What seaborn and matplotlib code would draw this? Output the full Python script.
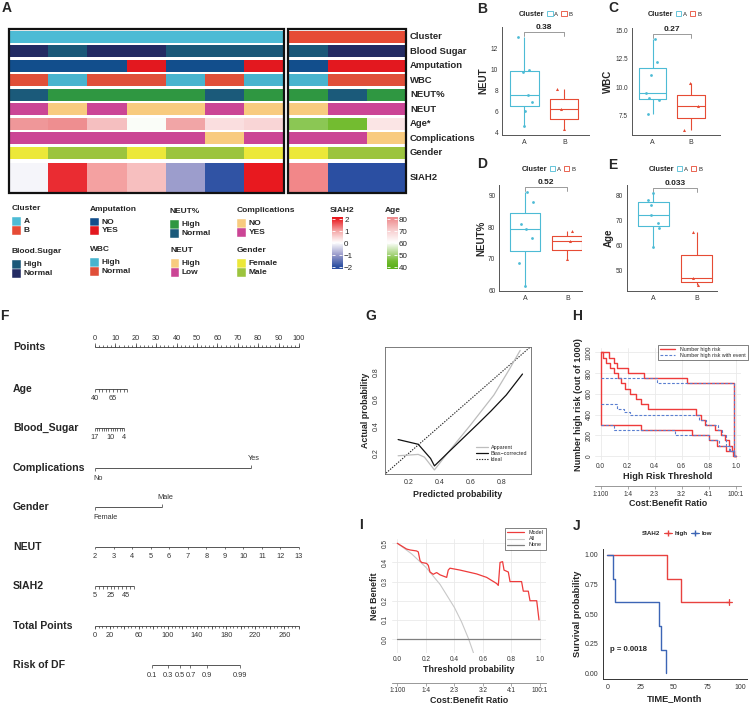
import numpy as np
import pandas as pd
import matplotlib
matplotlib.use("Agg")
import matplotlib.pyplot as plt
import seaborn as sns
from matplotlib.colors import ListedColormap, LinearSegmentedColormap
from matplotlib.patches import Rectangle, Patch
from matplotlib.lines import Line2D

sns.set_style("white")
plt.rcParams["font.family"] = ["Liberation Sans", "DejaVu Sans"]

# ---------------- data: heatmap (A) ----------------
cluster_A = ["A"] * 7
cluster_B = ["B"] * 3
blood_A = ["Normal", "High", "Normal", "Normal", "High", "High", "High"]
blood_B = ["High", "Normal", "Normal"]
amput_A = ["NO", "NO", "NO", "YES", "NO", "NO", "YES"]
amput_B = ["NO", "YES", "YES"]
wbc_A = ["Normal", "High", "Normal", "Normal", "High", "Normal", "High"]
wbc_B = ["High", "Normal", "Normal"]
neutp_A = ["Normal", "High", "High", "High", "High", "Normal", "High"]
neutp_B = ["High", "Normal", "High"]
neut_A = ["Low", "High", "Low", "High", "High", "Low", "High"]
neut_B = ["High", "Low", "Low"]
age_A = [78.5, 81.0, 72.5, 59.5, 76.5, 67.0, 69.0]
age_B = [47.0, 44.5, 65.5]
comp_A = ["YES", "YES", "YES", "YES", "YES", "NO", "YES"]
comp_B = ["YES", "YES", "NO"]
gender_A = ["Female", "Male", "Male", "Female", "Male", "Male", "Female"]
gender_B = ["Female", "Male", "Male"]
siah2_A = [-0.1, 1.85, 1.0, 0.7, -1.0, -1.95, 2.0]
siah2_B = [1.2, -2.0, -2.0]

# ---------------- data: boxplots (B-E) ----------------
neut_box_A = [13.0, 9.95, 9.75, 7.6, 6.9, 6.1, 4.65]
neut_box_B = [8.15, 6.3, 4.35]
wbc_box_A = [14.2, 12.25, 11.05, 9.5, 9.0, 8.9, 7.6]
wbc_box_B = [10.35, 8.3, 6.2]
neutp_box_A = [91.2, 88.2, 81.0, 79.6, 76.5, 68.5, 61.2]
neutp_box_B = [78.9, 75.5, 69.9]
pvals = ["0.38", "0.27", "0.52", "0.033"]

# ---------------- data: nomogram (F) ----------------
age_ticks = [40, 45, 50, 55, 60, 65, 70, 75, 80, 85]
age_labels = [40, 65]
age_end_vals = [40, 85]
age_end_pts = [0, 15.9]
bs_ticks = [17, 16, 15, 14, 13, 12, 11, 10, 9, 8, 7, 6, 5, 4]
bs_labels = [17, 10, 4]
bs_end_vals = [4, 17]
bs_end_pts = [14.2, 0]
comp_levels = ["No", "Yes"]
comp_pts = [0, 76.5]
gender_levels = ["Female", "Male"]
gender_pts = [0, 32.8]
neut_ticks = [2, 3, 4, 5, 6, 7, 8, 9, 10, 11, 12, 13]
neut_end_vals = [2, 13]
neut_end_pts = [0, 100]
siah_ticks = [5, 10, 15, 20, 25, 30, 35, 40, 45, 50, 55]
siah_labels = [5, 25, 45]
siah_end_vals = [5, 55]
siah_end_pts = [0, 19.1]
total_max = 280
total_labels = [0, 20, 60, 100, 140, 180, 220, 260]
risk_labels = ["0.1", "0.3", "0.5", "0.7", "0.9", "0.99"]
risk_total = [78, 100, 116, 131, 154, 199]

# ---------------- data: calibration (G) ----------------
ideal_x = [0, 1]
ideal_y = [0, 1]
cal_pred_app = [0.13, 0.26, 0.30, 0.365, 0.45, 0.60, 0.75, 0.85, 0.92]
cal_act_app = [0.18, 0.19, 0.17, 0.075, 0.20, 0.41, 0.63, 0.82, 0.96]
cal_pred_bc = [0.13, 0.26, 0.34, 0.365, 0.45, 0.55, 0.65, 0.73, 0.83, 0.935]
cal_act_bc = [0.30, 0.265, 0.16, 0.105, 0.20, 0.31, 0.42, 0.51, 0.63, 0.785]

# ---------------- data: clinical impact (H) ----------------
hr_up_x = [0, 0.065, 0.095, 0.12, 0.20, 0.32, 0.64, 0.99, 1.0]
hr_up_y = [1000, 950, 900, 850, 800, 750, 700, 0, 0]
hr_mid_x = [0, 0.02, 0.04, 0.07, 0.10, 0.13, 0.15, 0.18, 0.22, 0.26, 0.30, 0.35,
            0.71, 0.74, 0.77, 0.85, 0.89, 0.92, 0.95, 0.97, 0.99, 1.0]
hr_mid_y = [1000, 950, 900, 850, 800, 750, 700, 650, 600, 550, 500, 450,
            400, 350, 300, 250, 200, 150, 100, 50, 0, 0]
hr_low_x = [0, 0, 0.30, 0.68, 0.80, 0.86, 0.93, 0.98, 1.0]
hr_low_y = [1000, 300, 250, 200, 150, 100, 50, 0, 0]
ev_up_x = [0, 0.42, 0.99, 1.0]
ev_up_y = [750, 700, 0, 0]
ev_mid_x = [0, 0.12, 0.17, 0.22, 0.73, 0.78, 0.87, 0.90, 0.93, 0.96, 0.99, 1.0]
ev_mid_y = [500, 450, 420, 400, 350, 300, 250, 200, 100, 50, 0, 0]
ev_low_x = [0, 0.10, 0.55, 0.80, 0.88, 0.95, 0.99, 1.0]
ev_low_y = [300, 250, 200, 150, 100, 50, 0, 0]
cb_labels = ["1:100", "1:4", "2:3", "3:2", "4:1", "100:1"]

# ---------------- data: decision curve (I) ----------------
nb_model_x = [0, 0.065, 0.09, 0.135, 0.147, 0.159, 0.17, 0.205, 0.217, 0.229, 0.252,
              0.264, 0.276, 0.30, 0.346, 0.357, 0.369, 0.44, 0.556, 0.626, 0.696,
              0.708, 0.72, 0.738, 0.748, 0.778, 0.79, 0.871, 0.883, 0.918, 0.93,
              0.977, 0.993]
nb_model_y = [0.50, 0.47, 0.465, 0.46, 0.455, 0.41, 0.40, 0.395, 0.385, 0.35, 0.338,
              0.343, 0.347, 0.335, 0.322, 0.36, 0.37, 0.36, 0.34, 0.322, 0.29,
              0.28, 0.40, 0.404, 0.36, 0.35, 0.30, 0.30, 0.25, 0.25, 0.20,
              0.20, 0.10]
nb_all_x = [0, 0.1, 0.2, 0.3, 0.4, 0.45, 0.5, 0.535]
nb_all_y = [0.5, 0.445, 0.375, 0.285, 0.165, 0.09, 0.0, -0.075]
nb_none_x = [0, 1]
nb_none_y = [0, 0]

# ---------------- data: survival (J) ----------------
high_time = [45, 55, 91, 91, 91]
high_event = [1, 1, 0, 0, 0]
low_time = [4.5, 5.75, 39, 40.25, 44]
low_event = [1, 1, 1, 1, 1]
p_text = "p = 0.0018"

# ---------------- colours ----------------
col_cluster = {"A": "#4DBBD5", "B": "#E64B35"}
col_blood = {"High": "#1B5878", "Normal": "#232B63"}
col_amput = {"NO": "#124E8C", "YES": "#E3181F"}
col_wbc = {"High": "#48B4CE", "Normal": "#E04F39"}
col_neutp = {"High": "#2F9741", "Normal": "#1B5A7A"}
col_neut = {"High": "#F8CB7F", "Low": "#CB4595"}
col_comp = {"NO": "#F8CB7F", "YES": "#CB4595"}
col_gender = {"Female": "#ECE839", "Male": "#9CC43E"}
siah_cmap = LinearSegmentedColormap.from_list(
    "siah", [(0, "#2B4FA2"), (0.25, "#9C9DCC"), (0.5, "#FFFFFF"), (0.75, "#F4A3A3"), (1, "#E8191F")])
age_cmap = LinearSegmentedColormap.from_list(
    "age", [(0, "#5FB21E"), (0.1125, "#73BC30"), (0.175, "#8CC755"), (0.5, "#FFFFFF"),
            (0.75, "#F8D0D1"), (1, "#EE8E90")])

W, H = 750, 706
fig = plt.figure(figsize=(W / 100, H / 100), dpi=100)


def px_ax(x0, y0, x1, y1):
    return fig.add_axes([x0 / W, 1 - y1 / H, (x1 - x0) / W, (y1 - y0) / H])


def ftext(x, y, s, **kw):
    fig.text(x / W, 1 - y / H, s, **kw)


def frect(x0, y0, x1, y1, **kw):
    fig.patches.append(Rectangle((x0 / W, 1 - y1 / H), (x1 - x0) / W, (y1 - y0) / H,
                                 transform=fig.transFigure, **kw))


# ================= Panel A : heatmap =================
rows = [
    ("Cluster", cluster_A, cluster_B, col_cluster),
    ("Blood Sugar", blood_A, blood_B, col_blood),
    ("Amputation", amput_A, amput_B, col_amput),
    ("WBC", wbc_A, wbc_B, col_wbc),
    ("NEUT%", neutp_A, neutp_B, col_neutp),
    ("NEUT", neut_A, neut_B, col_neut),
    ("Age*", age_A, age_B, (age_cmap, 40, 80)),
    ("Complications", comp_A, comp_B, col_comp),
    ("Gender", gender_A, gender_B, col_gender),
    ("SIAH2", siah2_A, siah2_B, (siah_cmap, -2, 2)),
]
for i, (lab, va, vb, cmap_def) in enumerate(rows):
    if i < 9:
        top = 30.7 + i * 14.5
        bot = top + 11.8
    else:
        top, bot = 162.5, 192.0
    for vals, (x0, x1) in [(va, (9.0, 283.5)), (vb, (288.5, 406.0))]:
        ax = px_ax(x0, top, x1, bot)
        if isinstance(cmap_def, dict):
            levels = list(cmap_def.keys())
            codes = [[levels.index(v) for v in vals]]
            sns.heatmap(codes, cmap=ListedColormap([cmap_def[k] for k in levels]),
                        vmin=-0.5, vmax=len(levels) - 0.5, cbar=False,
                        xticklabels=False, yticklabels=False, ax=ax, linewidths=0)
        else:
            cm, lo, hi = cmap_def
            sns.heatmap([vals], cmap=cm, vmin=lo, vmax=hi, cbar=False,
                        xticklabels=False, yticklabels=False, ax=ax, linewidths=0)
        ax.set_xlabel("")
        ax.set_ylabel("")
    ftext(410, (top + bot) / 2, lab, ha="left", va="center", fontsize=6.8, fontweight="bold")

frect(8.8, 29.0, 283.8, 192.8, fill=False, lw=1.6, ec="#111111", zorder=5)
frect(288.2, 29.0, 406.3, 192.8, fill=False, lw=1.6, ec="#111111", zorder=5)

# legends (categorical)
cat_legends = [
    ("Cluster", 12, 208.5, col_cluster),
    ("Blood.Sugar", 12, 251.7, col_blood),
    ("Amputation", 90, 209.3, col_amput),
    ("WBC", 90, 249.5, col_wbc),
    ("NEUT%", 170, 211.5, col_neutp),
    ("NEUT", 170.5, 251.0, col_neut),
    ("Complications", 237, 211.0, col_comp),
    ("Gender", 237, 251.0, col_gender),
]
for title, lx, ly, cmap_def in cat_legends:
    ftext(lx, ly, title, ha="left", va="center", fontsize=6.0, fontweight="bold")
    for j, (k, c) in enumerate(cmap_def.items()):
        t = ly + 8.2 + j * 8.9
        frect(lx, t, lx + 8.6, t + 8.9, fc=c, ec="white", lw=0.3)
        ftext(lx + 11.5, t + 4.6, k, ha="left", va="center", fontsize=6.0, fontweight="bold")

# legends (continuous)
for title, lx, cm, lo, hi, ticks, tlabs, pad in [
    ("SIAH2", 331.5, siah_cmap, -2, 2, [-2, -1, 0, 1, 2], ["\u22122", "\u22121", "0", "1", "2"], 0.18),
    ("Age", 386.5, age_cmap, 40, 80, [40, 50, 60, 70, 80], ["40", "50", "60", "70", "80"], 2.1),
]:
    ftext(lx - 2, 210.0, title, ha="left", va="center", fontsize=6.0, fontweight="bold")
    axc = px_ax(lx, 217.0, lx + 10.5, 269.5)
    grad = np.linspace(lo - pad, hi + pad, 256)[:, None]
    axc.imshow(grad, aspect="auto", cmap=cm, vmin=lo, vmax=hi, origin="lower",
               extent=[0, 1, lo - pad, hi + pad])
    axc.set_xlim(0, 1)
    axc.set_ylim(lo - pad, hi + pad)
    axc.set_xticks([])
    axc.set_yticks(ticks, labels=tlabs)
    axc.tick_params(axis="y", direction="in", length=2.2, width=0.6, color="white",
                    left=True, right=True, labelleft=False, labelright=True,
                    labelsize=5.8, labelcolor="#222222", pad=1.5)
    for s in axc.spines.values():
        s.set_visible(False)

# ================= Panels B-E : boxplots =================
box_specs = [
    ((502, 27, 589, 135), neut_box_A, neut_box_B, "NEUT", (-0.56, 1.62), (3.81, 13.98),
     [4, 6, 8, 10, 12], ["4", "6", "8", "10", "12"], pvals[0], (0.46, 1.12)),
    ((632, 28, 720, 135), wbc_box_A, wbc_box_B, "WBC", (-0.54, 1.76), (5.79, 15.2),
     [7.5, 10, 12.5, 15], ["7.5", "10.0", "12.5", "15.0"], pvals[1], (0.44, 1.13)),
    ((499.3, 185, 581.7, 291), neutp_box_A, neutp_box_B, "NEUT%", (-0.61, 1.34), (59.7, 93.5),
     [60, 70, 80, 90], ["60", "70", "80", "90"], pvals[2], (0.55, 1.15)),
    ((626.7, 185, 716.7, 291), age_A, age_B, "Age", (-0.61, 1.46), (42.0, 84.3),
     [50, 60, 70, 80], ["50", "60", "70", "80"], pvals[3], (0.50, 1.15)),
]
np.random.seed(7)
for rect, vA, vB, ylab, xl, yl, yt, ytl, pv, lpos in box_specs:
    ax = px_ax(*rect)
    df = pd.DataFrame({"Cluster": ["A"] * len(vA) + ["B"] * len(vB), "val": list(vA) + list(vB)})
    sns.boxplot(data=df, x="Cluster", y="val", hue="Cluster", order=["A", "B"],
                hue_order=["A", "B"], palette=col_cluster, fill=False, width=0.71,
                linewidth=0.8, showcaps=False, showfliers=False, legend=False, ax=ax)
    sns.stripplot(x=["A"] * len(vA), y=vA, order=["A", "B"], color=col_cluster["A"],
                  marker="o", size=2.0, jitter=0.2, linewidth=0, ax=ax)
    sns.stripplot(x=["B"] * len(vB), y=vB, order=["A", "B"], color=col_cluster["B"],
                  marker="^", size=2.2, jitter=0.2, linewidth=0, ax=ax)
    lo, hi = min(vA + vB), max(vA + vB)
    rng = hi - lo
    yb = hi + 0.055 * rng
    ax.plot([0, 0, 1, 1], [yb - 0.04 * rng, yb, yb, yb - 0.04 * rng], color="#8a8a8a",
            lw=0.6, clip_on=False)
    ax.text(0.5, yb + 0.012 * rng, pv, ha="center", va="bottom", fontsize=6.0,
            fontweight="bold", color="#222222", clip_on=False)
    ax.set_xlim(*xl)
    ax.set_ylim(*yl)
    ax.set_yticks(yt, labels=ytl)
    ax.set_xlabel("")
    ax.set_ylabel(ylab, fontsize=7.0, fontweight="bold", labelpad=1.5)
    ax.tick_params(labelsize=4.7, length=1.8, width=0.5, pad=1, colors="#444444",
                   labelcolor="#333333")
    ax.tick_params(axis="x", labelsize=5.0)
    sns.despine(ax=ax)
    for s in ["left", "bottom"]:
        ax.spines[s].set_color("#555555")
        ax.spines[s].set_linewidth(0.7)
    handles = [Line2D([], [], color="none"),
               Patch(facecolor="white", edgecolor=col_cluster["A"], lw=0.6),
               Patch(facecolor="white", edgecolor=col_cluster["B"], lw=0.6)]
    leg = ax.legend(handles, ["Cluster", "A", "B"], ncol=3, loc="center",
                    bbox_to_anchor=lpos, frameon=False, fontsize=4.3, handlelength=0.9,
                    handleheight=0.8, handletextpad=0.3, columnspacing=0.5, borderaxespad=0)
    leg.get_texts()[0].set_fontweight("bold")
    leg.get_texts()[0].set_fontsize(5.3)

# ================= Panel F : nomogram =================
axF = px_ax(0, 330, 360, 706)
pxpt = 2.04
axF.set_xlim(-95 / pxpt, (360 - 95) / pxpt)
axF.set_ylim(9.04, -0.497)
axF.axis("off")
lc = "#3a3a3a"
tfs = 5.3
row_names = ["Points", "Age", "Blood_Sugar", "Complications", "Gender", "NEUT",
             "SIAH2", "Total Points", "Risk of DF"]
row_y = [-0.07, 1, 2, 3, 4, 5, 6, 7, 8]
for nm, y in zip(row_names, row_y):
    axF.text((13 - 95) / pxpt, y, nm, ha="left", va="center", fontsize=7.6, fontweight="bold")


def hline(y, a, b):
    axF.plot([a, b], [y, y], color=lc, lw=0.6, solid_capstyle="butt")


def ticks(y, xs, ln):
    axF.vlines(xs, y, y + ln, color=lc, lw=0.5)


# Points
y0 = row_y[0]
hline(y0, 0, 100)
ticks(y0, np.arange(0, 101, 2), -0.05)
ticks(y0, np.arange(0, 101, 10), -0.1)
for v in range(0, 101, 10):
    axF.text(v, y0 - 0.22, str(v), ha="center", va="center", fontsize=tfs, color="#333333")


def cont_axis(y, tick_vals, label_vals, end_vals, end_pts):
    order = np.argsort(end_vals)
    ev = np.array(end_vals)[order]
    ep = np.array(end_pts)[order]
    tp = np.interp(tick_vals, ev, ep)
    hline(y, tp.min(), tp.max())
    ticks(y, tp, 0.07)
    for v in label_vals:
        axF.text(np.interp(v, ev, ep), y + 0.24, str(v), ha="center", va="center",
                 fontsize=tfs, color="#333333")


cont_axis(row_y[1], age_ticks, age_labels, age_end_vals, age_end_pts)
cont_axis(row_y[2], bs_ticks, bs_labels, bs_end_vals, bs_end_pts)
cont_axis(row_y[5], neut_ticks, neut_ticks, neut_end_vals, neut_end_pts)
cont_axis(row_y[6], siah_ticks, siah_labels, siah_end_vals, siah_end_pts)

for y, levels, pts in [(row_y[3], comp_levels, comp_pts), (row_y[4], gender_levels, gender_pts)]:
    hline(y, pts[0], pts[1])
    ticks(y, [pts[0]], 0.08)
    ticks(y, [pts[1]], -0.08)
    axF.text(pts[0] - 0.6, y + 0.26, levels[0], ha="left", va="center", fontsize=tfs, color="#333333")
    axF.text(pts[1] + 1.5, y - 0.24, levels[1], ha="center", va="center", fontsize=tfs, color="#333333")

# Total points
yt_ = row_y[7]
sc = 100 / total_max
hline(yt_, 0, total_max * sc)
ticks(yt_, np.arange(0, total_max + 1, 5) * sc, 0.05)
ticks(yt_, np.arange(0, total_max + 1, 20) * sc, 0.09)
for v in total_labels:
    axF.text(v * sc, yt_ + 0.26, str(v), ha="center", va="center", fontsize=tfs, color="#333333")

# Risk
yr = row_y[8]
rp = np.array(risk_total) * sc
hline(yr, rp.min(), rp.max())
ticks(yr, rp, 0.08)
for p, l in zip(rp, risk_labels):
    axF.text(p, yr + 0.26, l, ha="center", va="center", fontsize=tfs, color="#333333")

# ================= Panel G : calibration =================
axG = px_ax(385, 347, 531, 474)
sns.lineplot(x=ideal_x, y=ideal_y, ax=axG, color="#222222", lw=0.8,
             linestyle=(0, (1.2, 1.2)), estimator=None, sort=False)
sns.lineplot(x=cal_pred_app, y=cal_act_app, ax=axG, color="#BDBDBD", lw=0.9,
             estimator=None, sort=False)
sns.lineplot(x=cal_pred_bc, y=cal_act_bc, ax=axG, color="#111111", lw=0.9,
             estimator=None, sort=False)
axG.set_xlim(0.045, 0.99)
axG.set_ylim(0.045, 0.985)
axG.set_xticks([0.2, 0.4, 0.6, 0.8], labels=["0.2", "0.4", "0.6", "0.8"])
axG.set_yticks([0.2, 0.4, 0.6, 0.8], labels=["0.2", "0.4", "0.6", "0.8"])
axG.tick_params(labelsize=5.0, length=2, width=0.5, pad=1.5, colors="#444444", labelcolor="#333333")
axG.tick_params(axis="y", labelrotation=90)
for t in axG.get_yticklabels():
    t.set_va("center")
axG.set_xlabel("Predicted probability", fontsize=6.4, fontweight="bold", labelpad=3)
axG.set_ylabel("Actual probability", fontsize=6.4, fontweight="bold", labelpad=2)
for s in axG.spines.values():
    s.set_color("#666666")
    s.set_linewidth(0.6)
hG = [Line2D([], [], color="#BDBDBD", lw=0.9), Line2D([], [], color="#111111", lw=0.9),
      Line2D([], [], color="#222222", lw=0.8, linestyle=(0, (1.2, 1.2)))]
axG.legend(hG, ["Apparent", "Bias\u2212corrected", "Ideal"], loc="lower right",
           bbox_to_anchor=(0.99, 0.08), frameon=False, fontsize=3.9, handlelength=2.2,
           labelspacing=0.15, handletextpad=0.6, borderaxespad=0)


def r_style(ax, xt, xtl, yt, ytl):
    ax.set_xticks(xt, labels=xtl)
    ax.set_yticks(yt, labels=ytl)
    ax.grid(True, color="#EAEAEA", lw=0.6)
    ax.set_axisbelow(True)
    for s in ax.spines.values():
        s.set_visible(False)
    ax.tick_params(labelsize=4.7, length=0, pad=2, labelcolor="#333333")
    ax.tick_params(axis="y", labelrotation=90)
    for t in ax.get_yticklabels():
        t.set_va("center")


def cost_axis(ax, loc):
    sec = ax.secondary_xaxis(loc)
    sec.set_xticks([0, 0.2, 0.4, 0.6, 0.8, 1.0], labels=cb_labels)
    sec.tick_params(labelsize=4.7, length=2, width=0.5, color="#888888", pad=1,
                    labelcolor="#333333")
    for s in sec.spines.values():
        s.set_color("#888888")
        s.set_linewidth(0.6)
    sec.set_xlabel("Cost:Benefit Ratio", fontsize=6.4, fontweight="bold", labelpad=1)
    return sec


# ================= Panel H : clinical impact =================
axH = px_ax(595.3, 348.2, 741, 460.1)
red = "#EE3B3B"
blue = "#5A7FD0"
for xs, ys in [(hr_up_x, hr_up_y), (hr_mid_x, hr_mid_y), (hr_low_x, hr_low_y)]:
    sns.lineplot(x=xs, y=ys, ax=axH, color=red, lw=1.0, drawstyle="steps-post",
                 estimator=None, sort=False)
for xs, ys in [(ev_up_x, ev_up_y), (ev_mid_x, ev_mid_y), (ev_low_x, ev_low_y)]:
    sns.lineplot(x=xs, y=ys, ax=axH, color=blue, lw=0.8, drawstyle="steps-post",
                 linestyle=(0, (2.5, 1.5)), estimator=None, sort=False)
axH.set_xlim(-0.04, 1.04)
axH.set_ylim(-40, 1040)
r_style(axH, [0, 0.2, 0.4, 0.6, 0.8, 1.0], ["0.0", "0.2", "0.4", "0.6", "0.8", "1.0"],
        [0, 200, 400, 600, 800, 1000], ["0", "200", "400", "600", "800", "1000"])
axH.set_xlabel("High Risk Threshold", fontsize=6.6, fontweight="bold", labelpad=1.5)
axH.set_ylabel("Number high risk (out of 1000)", fontsize=6.6, fontweight="bold", labelpad=2)
cost_axis(axH, -0.235)
hH = [Line2D([], [], color=red, lw=1.0), Line2D([], [], color=blue, lw=0.8, linestyle=(0, (2.5, 1.5)))]
lgH = axH.legend(hH, ["Number high risk", "Number high risk with event"], loc="upper right",
                 bbox_to_anchor=(1.045, 1.03), fontsize=3.8, frameon=True, fancybox=False,
                 edgecolor="#222222", handlelength=3.0, labelspacing=0.2, borderpad=0.4,
                 borderaxespad=0)
lgH.get_frame().set_linewidth(0.5)

# ================= Panel I : decision curve =================
axI = px_ax(391.6, 538.5, 545.7, 653.4)
sns.lineplot(x=nb_all_x, y=nb_all_y, ax=axI, color="#C8C8C8", lw=0.8, estimator=None, sort=False)
sns.lineplot(x=nb_none_x, y=nb_none_y, ax=axI, color="#7F7F7F", lw=0.9, estimator=None, sort=False)
sns.lineplot(x=nb_model_x, y=nb_model_y, ax=axI, color=red, lw=0.9, estimator=None, sort=False)
axI.set_xlim(-0.04, 1.04)
axI.set_ylim(-0.075, 0.525)
r_style(axI, [0, 0.2, 0.4, 0.6, 0.8, 1.0], ["0.0", "0.2", "0.4", "0.6", "0.8", "1.0"],
        [0, 0.1, 0.2, 0.3, 0.4, 0.5], ["0.0", "0.1", "0.2", "0.3", "0.4", "0.5"])
axI.set_xlabel("Threshold probability", fontsize=6.4, fontweight="bold", labelpad=1.5)
axI.set_ylabel("Net Benefit", fontsize=6.4, fontweight="bold", labelpad=2)
cost_axis(axI, -0.26)
hI = [Line2D([], [], color=red, lw=0.9), Line2D([], [], color="#C8C8C8", lw=0.8),
      Line2D([], [], color="#7F7F7F", lw=0.9)]
lgI = axI.legend(hI, ["Model", "All", "None"], loc="upper right", bbox_to_anchor=(1.0, 1.09),
                 fontsize=3.9, frameon=True, fancybox=False, edgecolor="#222222",
                 handlelength=3.2, labelspacing=0.2, borderpad=0.4, borderaxespad=0)
lgI.get_frame().set_linewidth(0.5)

# ================= Panel J : Kaplan-Meier =================


def km(times, events):
    t = np.array(times, dtype=float)
    e = np.array(events)
    xs, ys, s = [0.0], [1.0], 1.0
    for u in np.unique(t[e == 1]):
        n = (t >= u).sum()
        d = ((t == u) & (e == 1)).sum()
        s *= 1 - d / n
        xs.append(u)
        ys.append(s)
    xs.append(t.max())
    ys.append(s)
    cens = [(u, s_at) for u, s_at in []]
    return xs, ys


axJ = px_ax(603, 549, 746.7, 679)
kred = "#E8423F"
kblue = "#3C65B5"
for tm, ev, c in [(high_time, high_event, kred), (low_time, low_event, kblue)]:
    xs, ys = km(tm, ev)
    sns.lineplot(x=xs, y=ys, ax=axJ, color=c, lw=1.0, drawstyle="steps-post",
                 estimator=None, sort=False)
    ct = [t for t, e in zip(tm, ev) if e == 0]
    if ct:
        sv = [ys[np.searchsorted(xs, t, side="right") - 1] for t in ct]
        sns.scatterplot(x=ct, y=sv, ax=axJ, color=c, marker="+", s=14, linewidth=0.8)
axJ.set_xlim(-3.2, 104.5)
axJ.set_ylim(-0.048, 1.05)
axJ.set_xticks([0, 25, 50, 75, 100], labels=["0", "25", "50", "75", "100"])
axJ.set_yticks([0, 0.25, 0.5, 0.75, 1.0], labels=["0.00", "0.25", "0.50", "0.75", "1.00"])
axJ.tick_params(labelsize=5.0, length=2, width=0.5, pad=1.5, colors="#444444", labelcolor="#333333")
axJ.set_xlabel("TIME_Month", fontsize=6.7, fontweight="bold", labelpad=2)
axJ.set_ylabel("Survival probability", fontsize=6.7, fontweight="bold", labelpad=2)
sns.despine(ax=axJ)
for s in ["left", "bottom"]:
    axJ.spines[s].set_color("#333333")
    axJ.spines[s].set_linewidth(0.7)
axJ.text(2.0, 0.2, p_text, ha="left", va="center", fontsize=5.6, fontweight="bold")
hJ = [Line2D([], [], color="none"), Line2D([], [], color=kred, marker="+", lw=0.8, ms=4),
      Line2D([], [], color=kblue, marker="+", lw=0.8, ms=4)]
lgJ = axJ.legend(hJ, ["SIAH2", "high", "low"], ncol=3, loc="center",
                 bbox_to_anchor=(0.48, 1.12), frameon=False, fontsize=4.5,
                 handlelength=1.3, handletextpad=0.3, columnspacing=0.6, borderaxespad=0)
for t in lgJ.get_texts():
    t.set_fontweight("bold")

# ================= panel letters =================
for letter, x, y in [("A", 2, 8.5), ("B", 477, 9), ("C", 608, 8.5), ("D", 477, 164),
                     ("E", 608, 165), ("F", 0, 316), ("G", 365, 316), ("H", 572, 316.5),
                     ("I", 359, 525), ("J", 573, 526)]:
    ftext(x, y, letter, ha="left", va="center", fontsize=10, fontweight="bold")

fig.savefig("out.png", dpi=100)
